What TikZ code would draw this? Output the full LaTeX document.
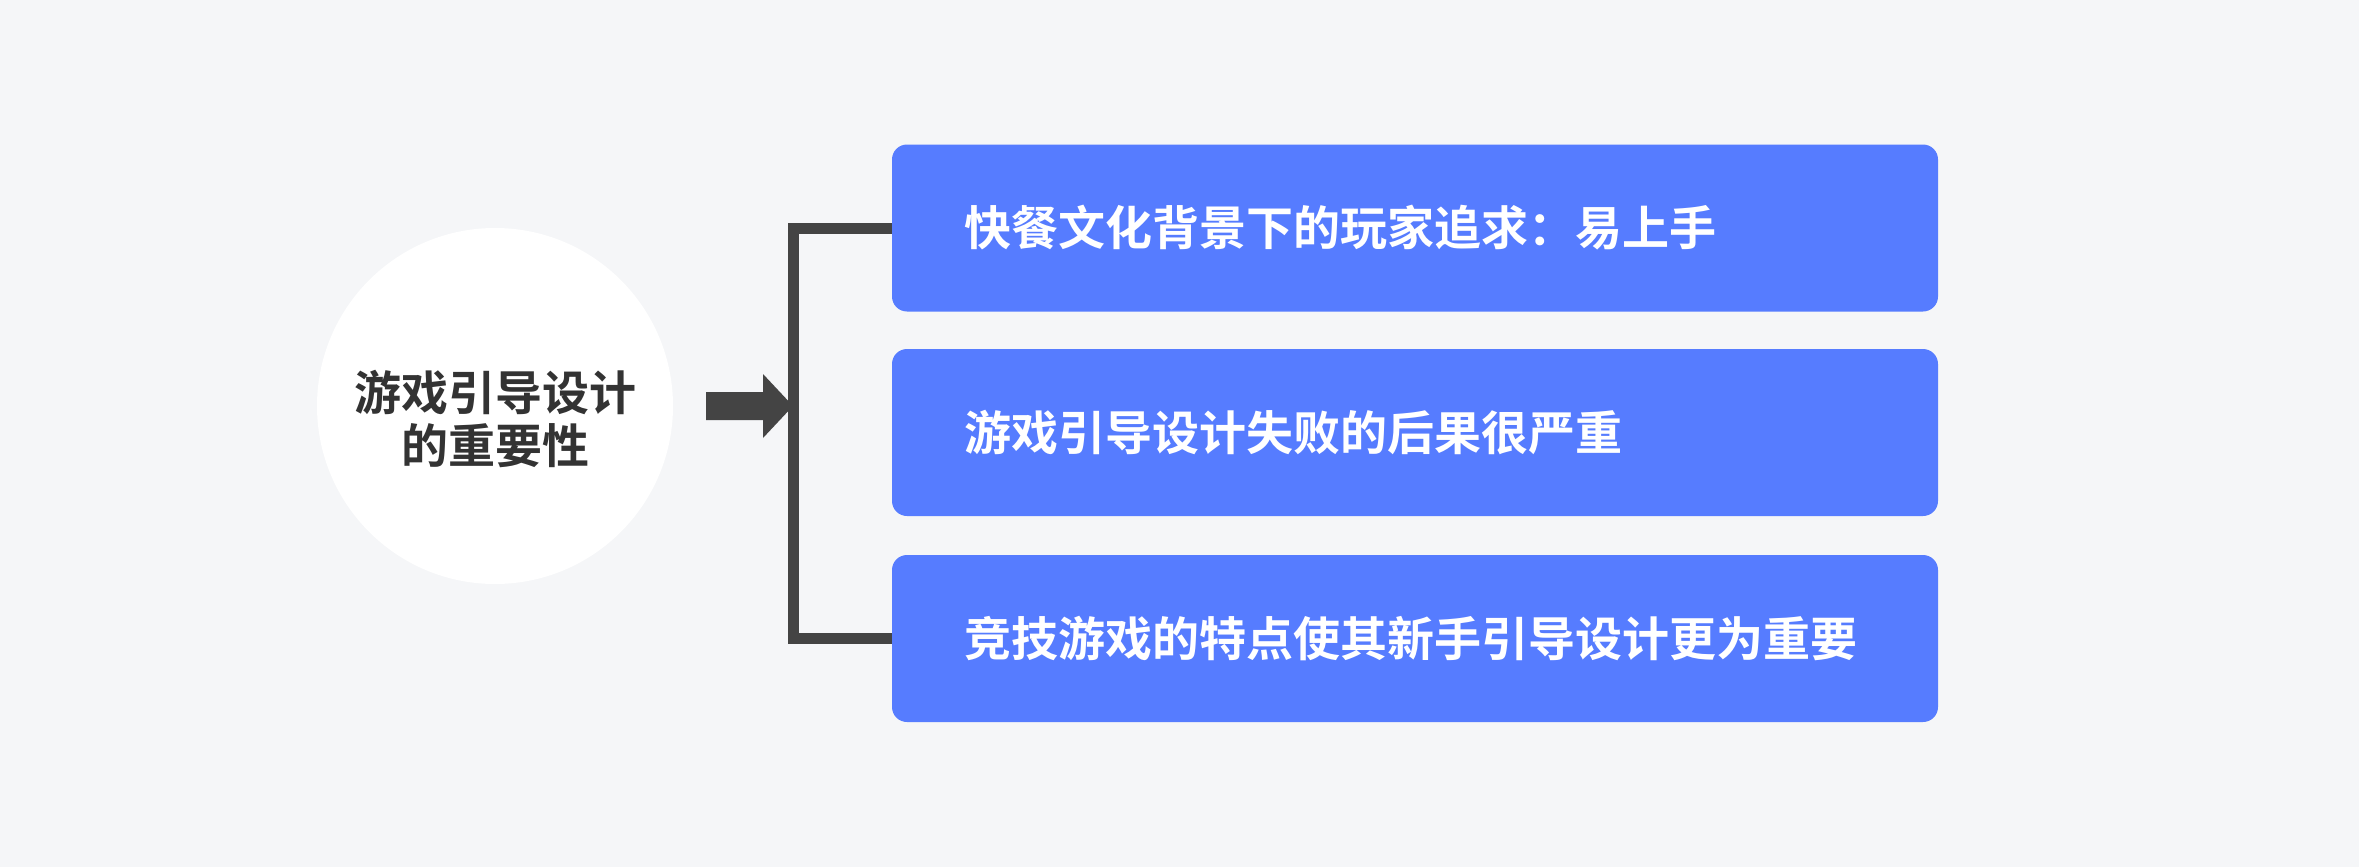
\documentclass[tikz,border=0pt]{standalone}
\usepackage{fontspec}
\usetikzlibrary{backgrounds}
\newfontfamily\cjk{Noto Sans CJK SC}[BoldFont=Noto Sans CJK SC Bold]
\definecolor{bgc}{HTML}{F5F6F8}
\definecolor{boxblue}{HTML}{567CFF}
\definecolor{darkg}{HTML}{444444}
\definecolor{txtg}{HTML}{333333}
\begin{document}
\begin{tikzpicture}[x=1pt,y=-1pt,
  itembox/.style={rectangle, rounded corners=15pt, fill=boxblue, draw=none,
    minimum width=1046pt, minimum height=167pt, inner xsep=72pt, inner ysep=0pt,
    text width=902pt, align=left, text=white,
    font=\cjk\bfseries\fontsize{47}{56}\selectfont},
  hub/.style={circle, fill=white, minimum size=356pt, inner sep=0pt},
  hubtext/.style={align=center, text=txtg, font=\cjk\bfseries\fontsize{47}{53}\selectfont},
  bracket/.style={draw=darkg, line width=11pt}
]
\useasboundingbox (0,0) rectangle (2359,867);

\node[hub] (hub) at (495,406) {};
\node[hubtext] (hubt) at (495,419) {游戏引导设计\\的重要性};

\node[itembox] (b1) at (1415,228) {快餐文化背景下的玩家追求：易上手};
\node[itembox] (b2) at (1415,432.5) {游戏引导设计失败的后果很严重};
\node[itembox] (b3) at (1415,638.5) {竞技游戏的特点使其新手引导设计更为重要};

\coordinate (bar) at (793,406);

\begin{scope}[on background layer]
  \fill[bgc] (0,0) rectangle (2359,867);
  \draw[bracket] (b1.west) -| (bar) |- (b3.west);
\end{scope}

\fill[darkg] (706,392) -- (763,392) -- (763,374) -- (bar) -- (763,438) -- (763,420) -- (706,420) -- cycle;
\end{tikzpicture}
\end{document}
